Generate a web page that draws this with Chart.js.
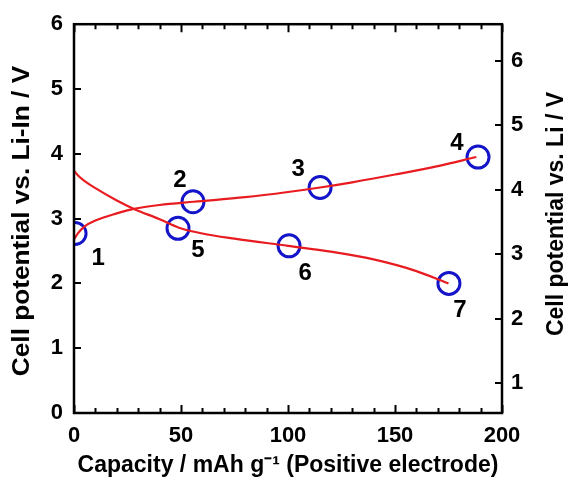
<!DOCTYPE html>
<html>
<head>
<meta charset="utf-8">
<script src="https://cdn.jsdelivr.net/npm/chart.js@4.4.1/dist/chart.umd.min.js"></script>
<style>
  html, body { margin: 0; padding: 0; background: #fff; }
  #wrap { width: 571px; height: 484px; position: relative; }
</style>
</head>
<body>
<div id="wrap"><canvas id="c" width="571" height="484"></canvas></div>
<script>
// ---- data ----
const chargeCapacity = [0, 2, 5, 10, 20, 28, 40, 56, 80, 100, 115, 130, 150, 170, 188];
const chargeVoltage  = [2.68, 2.78, 2.88, 2.97, 3.08, 3.15, 3.21, 3.26, 3.33, 3.41, 3.48, 3.56, 3.68, 3.81, 3.95];
const dischargeCapacity = [0, 2, 5, 10, 20, 28, 40, 49, 60, 75, 100, 120, 140, 160, 175];
const dischargeVoltage  = [3.74, 3.66, 3.58, 3.47, 3.28, 3.15, 2.99, 2.86, 2.77, 2.69, 2.58, 2.49, 2.37, 2.19, 2.0];
const markerLabels   = ['1', '2', '3', '4', '5', '6', '7'];
const markerCapacity = [0.5, 55.6, 115, 188.8, 48.6, 100.5, 175.2];
const markerVoltage  = [2.77, 3.26, 3.48, 3.95, 2.85, 2.58, 2.0];
const xTicks = [0, 50, 100, 150, 200];
const leftTicks = [0, 1, 2, 3, 4, 5, 6];
const rightTicks = [1, 2, 3, 4, 5, 6];
const rightMin = 0.54, rightMax = 6.57; // Li scale (Li-In + ~0.6 V)
const xTitle = 'Capacity / mAh g\u207B\u00B9 (Positive electrode)';
const leftTitle = 'Cell potential vs. Li-In / V';
const rightTitle = 'Cell potential vs. Li / V';

// label offsets in px relative to marker (layout only)
const LABEL_OFFSETS = [[23,25],[-13,-21],[-22,-18],[-21,-14],[20,22],[16,28],[11,27]];

const FONT = '"Liberation Sans", Arial, sans-serif';
const RED = 'rgb(232,28,32)';
const BLUE = 'rgb(20,20,200)';

const toPts = (xs, ys) => xs.map((x, i) => ({x, y: ys[i]}));

function drawVTitle(ctx, text, cx, cy, stretch) {
  ctx.save();
  ctx.translate(cx, cy);
  ctx.rotate(-Math.PI / 2);
  ctx.scale(stretch, 1);
  ctx.font = 'bold 23px ' + FONT;
  ctx.fillStyle = '#000';
  ctx.textAlign = 'center';
  ctx.textBaseline = 'middle';
  ctx.fillText(text, 0, 0);
  ctx.restore();
}

const framePlugin = {
  id: 'frame',
  afterDraw(chart) {
    const {ctx, chartArea: a, scales} = chart;
    const xs = scales.x, yl = scales.y, yr = scales.y2;
    ctx.save();
    ctx.strokeStyle = '#000';
    ctx.lineWidth = 2;
    ctx.beginPath();
    for (let v = 0; v <= 200; v += 10) {
      const px = Math.round(xs.getPixelForValue(v)) + 0.5;
      const len = (v % 50 === 0) ? 8 : 5;
      ctx.moveTo(px, a.bottom); ctx.lineTo(px, a.bottom - len);
      ctx.moveTo(px, a.top); ctx.lineTo(px, a.top + len);
    }
    leftTicks.forEach(v => {
      const py = Math.round(yl.getPixelForValue(v));
      ctx.moveTo(a.left, py); ctx.lineTo(a.left + 7, py);
    });
    rightTicks.forEach(v => {
      const py = Math.round(yr.getPixelForValue(v));
      ctx.moveTo(a.right, py); ctx.lineTo(a.right - 7, py);
    });
    ctx.stroke();
    ctx.lineWidth = 2.5;
    ctx.strokeRect(a.left, a.top, a.right - a.left, a.bottom - a.top);

    ctx.fillStyle = '#000';
    ctx.font = 'bold 24px ' + FONT;
    ctx.textAlign = 'center';
    ctx.textBaseline = 'middle';
    markerLabels.forEach((t, i) => {
      const px = xs.getPixelForValue(markerCapacity[i]) + LABEL_OFFSETS[i][0];
      const py = yl.getPixelForValue(markerVoltage[i]) + LABEL_OFFSETS[i][1];
      ctx.fillText(t, px, py);
    });

    drawVTitle(ctx, leftTitle, 23, 221, 1.14);
    drawVTitle(ctx, rightTitle, 557, 214, 1.0);
    ctx.restore();
  }
};

new Chart(document.getElementById('c'), {
  type: 'line',
  data: {
    datasets: [
      {
        data: toPts(chargeCapacity, chargeVoltage),
        borderColor: RED, borderWidth: 2.2, pointRadius: 0,
        cubicInterpolationMode: 'monotone', fill: false
      },
      {
        data: toPts(dischargeCapacity, dischargeVoltage),
        borderColor: RED, borderWidth: 2.2, pointRadius: 0,
        cubicInterpolationMode: 'monotone', fill: false
      },
      {
        type: 'scatter',
        data: toPts(markerCapacity, markerVoltage),
        borderColor: BLUE, backgroundColor: 'rgba(0,0,0,0)',
        borderWidth: 3, pointRadius: 11, pointHoverRadius: 11, showLine: false
      }
    ]
  },
  options: {
    responsive: false,
    animation: false,
    events: [],
    layout: { padding: { top: 23, left: 0, right: 0, bottom: 0 } },
    plugins: { legend: { display: false }, tooltip: { enabled: false } },
    scales: {
      x: {
        type: 'linear', min: 0, max: 200,
        afterBuildTicks: s => { s.ticks = xTicks.map(v => ({value: v})); },
        grid: { display: false, drawTicks: false },
        border: { display: false },
        ticks: { color: '#000', font: { family: FONT, size: 22, weight: 'bold' }, padding: 10, maxRotation: 0 },
        title: { display: true, text: xTitle, color: '#000',
                 font: { family: FONT, size: 23, weight: 'bold' }, padding: { top: 0, bottom: 5 } },
        afterFit: s => { s.height = 71; }
      },
      y: {
        type: 'linear', position: 'left', min: 0, max: 6,
        afterBuildTicks: s => { s.ticks = leftTicks.map(v => ({value: v})); },
        grid: { display: false, drawTicks: false },
        border: { display: false },
        ticks: { color: '#000', font: { family: FONT, size: 22, weight: 'bold' }, padding: 11 },
        afterFit: s => { s.width = 74; }
      },
      y2: {
        type: 'linear', position: 'right', min: rightMin, max: rightMax,
        afterBuildTicks: s => { s.ticks = rightTicks.map(v => ({value: v})); },
        grid: { display: false, drawTicks: false },
        border: { display: false },
        ticks: { color: '#000', font: { family: FONT, size: 22, weight: 'bold' }, padding: 9 },
        afterFit: s => { s.width = 69; }
      }
    }
  },
  plugins: [framePlugin]
});
</script>
</body>
</html>
